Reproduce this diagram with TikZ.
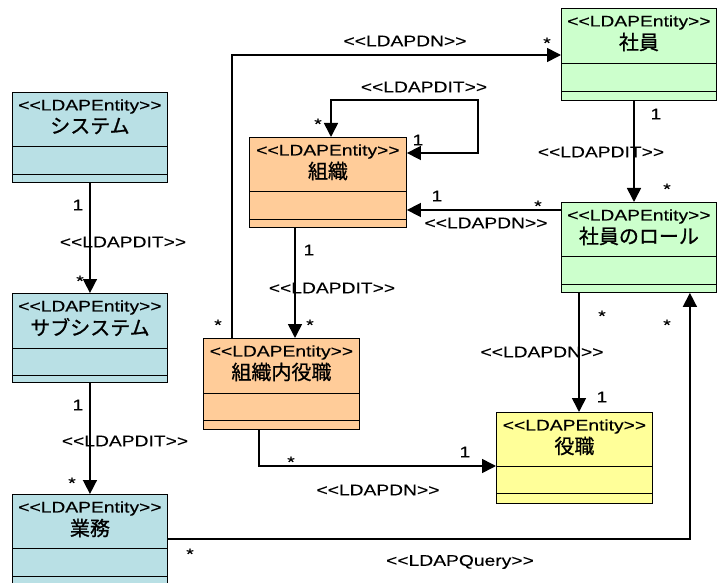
\documentclass[tikz,border=0pt]{standalone}
\usepackage{fontspec}
\setmainfont{Liberation Sans}[FakeStretch=1.25, FakeBold=0.25, Ligatures=TeXOff]
\newfontfamily\jpfont{Noto Sans CJK JP}[FakeBold=0.9]
\usetikzlibrary{arrows.meta,calc}
\definecolor{cblue}{RGB}{185,224,229}
\definecolor{corange}{RGB}{255,204,153}
\definecolor{cgreen}{RGB}{204,255,204}
\definecolor{cyellow}{RGB}{255,255,153}
\tikzset{
  entity/.style={draw=black, line width=0.9pt, anchor=north west, inner sep=0pt},
  divline/.style={line width=0.9pt},
  lab/.style={inner sep=0pt, font=\fontsize{15.4}{17}\selectfont},
  ename/.style={inner sep=0pt, font=\jpfont\fontsize{20}{22}\selectfont},
  tip/.tip={Triangle[length=14pt,width=14pt]},
  assoc/.style={line width=1.6pt, -tip},
  assocboth/.style={line width=1.6pt, tip-tip},
}
\newcommand\entbox[9]{%
  \node[entity, fill=#8, minimum width=#4pt, minimum height=#5pt] (#1) at (#2,#3) {};
  \draw[divline] ([yshift=-#6pt]#1.north west) -- ([yshift=-#6pt]#1.north east);
  \draw[divline] ([yshift=-#7pt]#1.north west) -- ([yshift=-#7pt]#1.north east);
  \node[lab] (#1-st) at ([yshift=-14.5pt]#1.north) {<<LDAPEntity>>};
  \node[ename] (#1-nm) at ([yshift=-34pt]#1.north) {#9};
}
\begin{document}
\begin{tikzpicture}[x=1pt,y=-1pt]
\useasboundingbox (0,0) rectangle (718,583);
\entbox{sys}{12}{92}{155}{90}{54}{82}{cblue}{システム}
\entbox{sub}{12}{293}{155}{89}{55}{82}{cblue}{サブシステム}
\entbox{gyo}{12}{494}{155}{96}{54}{82}{cblue}{業務}
\entbox{org}{249}{137}{157}{90}{54}{82}{corange}{組織}
\entbox{orgpos}{203}{338}{156}{91}{55}{82}{corange}{組織内役職}
\entbox{emp}{561}{8}{155}{92}{55}{83}{cgreen}{社員}
\entbox{role}{561}{202}{155}{90}{54}{82}{cgreen}{社員のロール}
\entbox{pos}{496}{412}{156}{91}{54}{81}{cyellow}{役職}

% connectors
\draw[assoc] (sys.south) -- (sub.north);
\draw[assoc] (sub.south) -- (gyo.north);
\draw[assoc] ([yshift=-45pt]gyo.north east) -| ([xshift=-27pt]role.south east);
\draw[assoc] ([xshift=29pt]orgpos.north west) |- ([yshift=-47pt]emp.north west);
\coordinate (loopc) at (478,100);
\draw[assocboth] ([yshift=-16pt]org.north east) -| (loopc) -| ([xshift=82pt]org.north west);
\coordinate (o1) at ([xshift=46pt]org.south west);
\draw[assoc] (o1) -- (o1 |- orgpos.north);
\coordinate (r1) at ([yshift=-8pt]role.north west);
\draw[assoc] (r1) -- (r1 -| org.east);
\coordinate (e1) at ([xshift=73pt]emp.south west);
\draw[assoc] (e1) -- (e1 |- role.north);
\coordinate (r2) at ([xshift=18pt]role.south west);
\draw[assoc] (r2) -- (r2 |- pos.north);
\draw[assoc] ([xshift=56pt]orgpos.south west) |- ([yshift=-54pt]pos.north west);

% labels
\node[lab] (a1) at (78,205) {1};
\node[lab] (a2) at (123,242) {<<LDAPDIT>>};
\node[lab] (a3) at (80,281) {*};
\node[lab] (b1) at (78,405) {1};
\node[lab] (b2) at (125,441) {<<LDAPDIT>>};
\node[lab] (b3) at (72,483) {*};
\node[lab] (c1) at (190,554) {*};
\node[lab] (c2) at (460,562) {<<LDAPQuery>>};
\node[lab] (c3) at (667,325) {*};
\node[lab] (d1) at (218,325) {*};
\node[lab] (d2) at (405,41) {<<LDAPDN>>};
\node[lab] (d3) at (547,43) {*};
\node[lab] (f1) at (424,87) {<<LDAPDIT>>};
\node[lab] (f2) at (318,124) {*};
\node[lab] (f3) at (418,140) {1};
\node[lab] (g1) at (309,250) {1};
\node[lab] (g2) at (332,288) {<<LDAPDIT>>};
\node[lab] (g3) at (310,325) {*};
\node[lab] (h1) at (437,196) {1};
\node[lab] (h2) at (538,206) {*};
\node[lab] (h3) at (486,223) {<<LDAPDN>>};
\node[lab] (i1) at (656,114) {1};
\node[lab] (i2) at (601,152) {<<LDAPDIT>>};
\node[lab] (i3) at (667,189) {*};
\node[lab] (j1) at (602,316) {*};
\node[lab] (j2) at (542,352) {<<LDAPDN>>};
\node[lab] (j3) at (602,397) {1};
\node[lab] (k1) at (291,462) {*};
\node[lab] (k2) at (465,452) {1};
\node[lab] (k3) at (378,490) {<<LDAPDN>>};
\end{tikzpicture}
\end{document}
